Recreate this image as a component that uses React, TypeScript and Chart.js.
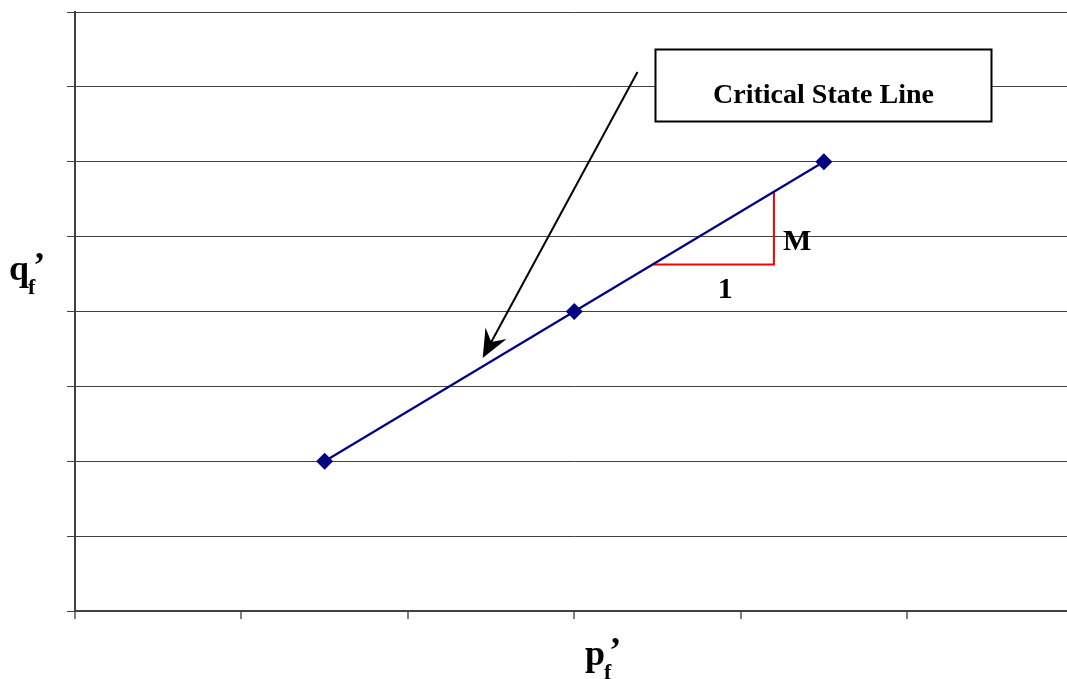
import React, { useEffect, useRef } from "react";
import { Chart, registerables } from "chart.js";

Chart.register(...registerables);

// Critical state line points (p_f', q_f')
const pValues = [1.5, 3, 4.5];
const qValues = [2, 4, 6];

// Slope triangle "1 : M"
const triangleP = [3.47, 4.2, 4.2];
const triangleQ = [4.627, 4.627, 5.6];

// Arrow from label box towards the line
const arrowFrom = { x: 3.38, y: 7.2 };
const arrowTo = { x: 2.45, y: 3.38 };

// Label box corners (data units)
const boxTopLeft = { x: 3.485, y: 7.505 };
const boxBottomRight = { x: 5.505, y: 6.545 };
const boxText = "Critical State Line";

const xTickCount = 6;
const yTickCount = 8;

const SERIF = "'Liberation Serif', 'Times New Roman', serif";

const annotations = {
  id: "annotations",
  afterDatasetsDraw(chart: any) {
    const { ctx, scales } = chart;
    const xs = scales.x;
    const ys = scales.y;
    ctx.save();

    // Label box
    const bx1 = Math.round(xs.getPixelForValue(boxTopLeft.x)) + 0.5;
    const by1 = Math.round(ys.getPixelForValue(boxTopLeft.y)) + 0.5;
    const bx2 = Math.round(xs.getPixelForValue(boxBottomRight.x)) + 0.5;
    const by2 = Math.round(ys.getPixelForValue(boxBottomRight.y)) + 0.5;
    ctx.fillStyle = "#ffffff";
    ctx.fillRect(bx1, by1, bx2 - bx1, by2 - by1);
    ctx.strokeStyle = "#000000";
    ctx.lineWidth = 2;
    ctx.strokeRect(bx1, by1, bx2 - bx1, by2 - by1);
    ctx.fillStyle = "#000000";
    ctx.font = `bold 28px ${SERIF}`;
    ctx.textAlign = "center";
    ctx.textBaseline = "alphabetic";
    ctx.fillText(boxText, (bx1 + bx2) / 2, by1 + 53);

    // Arrow
    const ax1 = xs.getPixelForValue(arrowFrom.x);
    const ay1 = ys.getPixelForValue(arrowFrom.y);
    const ax2 = xs.getPixelForValue(arrowTo.x);
    const ay2 = ys.getPixelForValue(arrowTo.y);
    const dx = ax2 - ax1;
    const dy = ay2 - ay1;
    const len = Math.hypot(dx, dy);
    const ux = dx / len;
    const uy = dy / len;
    const nx = -uy;
    const ny = ux;
    const L = 28;
    const W = 12;
    const notch = 18;
    ctx.strokeStyle = "#000000";
    ctx.lineWidth = 2;
    ctx.beginPath();
    ctx.moveTo(ax1, ay1);
    ctx.lineTo(ax2 - ux * notch, ay2 - uy * notch);
    ctx.stroke();
    ctx.beginPath();
    ctx.moveTo(ax2, ay2);
    ctx.lineTo(ax2 - ux * L + nx * W, ay2 - uy * L + ny * W);
    ctx.lineTo(ax2 - ux * notch, ay2 - uy * notch);
    ctx.lineTo(ax2 - ux * L - nx * W, ay2 - uy * L - ny * W);
    ctx.closePath();
    ctx.fillStyle = "#000000";
    ctx.fill();

    // Triangle labels
    const txR = xs.getPixelForValue(triangleP[1]);
    const txL = xs.getPixelForValue(triangleP[0]);
    const tyB = ys.getPixelForValue(triangleQ[0]);
    const tyT = ys.getPixelForValue(triangleQ[2]);
    ctx.font = `bold 30px ${SERIF}`;
    ctx.textAlign = "left";
    ctx.textBaseline = "alphabetic";
    ctx.fillText("M", txR + 9, (tyB + tyT) / 2 + 22);
    ctx.textAlign = "center";
    ctx.fillText("1", (txL + txR) / 2 + 12, tyB + 33);

    // Axis titles with subscripts
    const drawTitle = (main: string, x: number, base: number) => {
      ctx.textAlign = "left";
      ctx.textBaseline = "alphabetic";
      ctx.font = `bold 36px ${SERIF}`;
      ctx.fillText(main, x, base);
      const w = ctx.measureText(main).width;
      ctx.font = `bold 22px ${SERIF}`;
      ctx.fillText("f", x + w - 1, base + 14);
      const wf = ctx.measureText("f").width;
      ctx.font = `bold 36px ${SERIF}`;
      ctx.fillText("\u2019", x + w + wf - 3, base - 3);
    };
    drawTitle("q", 9, 280);
    drawTitle("p", 585, 665);

    ctx.restore();
  },
};

export default function App() {
  const canvasRef = useRef<HTMLCanvasElement | null>(null);

  useEffect(() => {
    if (!canvasRef.current) return;
    const chart = new Chart(canvasRef.current, {
      type: "scatter",
      data: {
        datasets: [
          {
            label: "Critical State Line",
            data: pValues.map((p, i) => ({ x: p, y: qValues[i] })),
            showLine: true,
            borderColor: "#000080",
            backgroundColor: "#000080",
            borderWidth: 2.2,
            pointStyle: "rectRot",
            pointRadius: 8.5,
            pointBackgroundColor: "#000080",
            pointBorderColor: "#000080",
            pointBorderWidth: 0,
          },
          {
            label: "Slope",
            data: triangleP.map((p, i) => ({ x: p, y: triangleQ[i] })),
            showLine: true,
            borderColor: "#ff0000",
            borderWidth: 2,
            pointRadius: 0,
          },
        ],
      },
      options: {
        responsive: false,
        animation: false,
        layout: { padding: { top: 12, left: 0, right: 0, bottom: 0 } },
        plugins: {
          legend: { display: false },
          tooltip: { enabled: false },
        },
        scales: {
          x: {
            type: "linear",
            min: 0,
            max: xTickCount,
            ticks: { display: false, stepSize: 1 },
            grid: {
              drawOnChartArea: false,
              drawTicks: true,
              tickLength: 8,
              color: (c: any) => (c.tick && c.tick.value === xTickCount ? "rgba(0,0,0,0)" : "#808080"),
              lineWidth: 2,
            },
            border: { color: "#404040", width: 2 },
            afterFit: (s: any) => {
              s.height = 68;
            },
          },
          y: {
            type: "linear",
            min: 0,
            max: yTickCount,
            ticks: { display: false, stepSize: 1 },
            grid: {
              drawOnChartArea: true,
              drawTicks: true,
              tickLength: 8,
              color: "#404040",
              lineWidth: 1,
            },
            border: { color: "#404040", width: 2 },
            afterFit: (s: any) => {
              s.width = 75;
            },
          },
        },
      },
      plugins: [annotations],
    });
    return () => chart.destroy();
  }, []);

  return (
    <div
      style={{
        position: "fixed",
        left: 0,
        top: 0,
        width: 1067,
        height: 679,
        overflow: "hidden",
        background: "#ffffff",
      }}
    >
      <canvas ref={canvasRef} width={1082} height={679} style={{ width: 1082, height: 679, display: "block" }} />
    </div>
  );
}
